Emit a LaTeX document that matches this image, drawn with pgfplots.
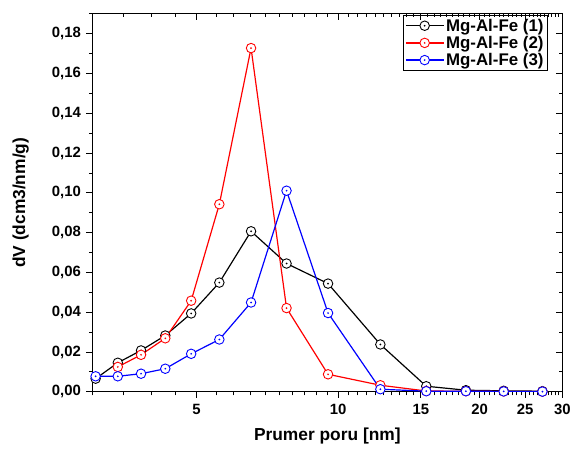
\documentclass[border=0pt]{standalone}
\usepackage{pgfplots}
\pgfplotsset{compat=1.18}
\usepackage{fontspec}
\setmainfont{Liberation Sans}
\pgfdeclareplotmark{dotcirc}{%
  \pgfpathcircle{\pgfpointorigin}{\pgfplotmarksize}%
  \pgfsetfillcolor{white}%
  \pgfusepathqfillstroke
  \pgfpathcircle{\pgfpointorigin}{0.35pt}%
  \pgfusepathqstroke}
\begin{document}
\begin{tikzpicture}
\begin{axis}[
  scale only axis, width=474pt, height=381pt,
  xmode=log, xmin=3, xmax=30, ymin=0, ymax=0.19,
  axis line style={line width=1.2pt},
  major tick length=6pt, minor tick length=3.5pt,
  every tick/.style={line width=1pt, black},
  xtick={5,10,15,20,25,30},
  minor xtick={3,3.5,4,4.5,5.5,6,6.5,7,7.5,8,8.5,9,9.5,10.5,11,11.5,12,12.5,13,13.5,14,14.5,15.5,16,16.5,17,17.5,18,18.5,19,19.5,20.5,21,21.5,22,22.5,23,23.5,24,24.5,25.5,26,26.5,27,27.5,28,28.5,29,29.5},
  ytick={0,0.02,...,0.181},
  minor ytick={0.01,0.03,...,0.19},
  xtick pos=bottom, ytick pos=left, tick align=outside,
  xticklabels={5,10,15,20,25,30},
  yticklabel style={xshift=-2pt, /pgf/number format/.cd, fixed, fixed zerofill, precision=2, use comma, assume math mode=true},
  tick label style={font=\fontsize{15}{17}\selectfont\bfseries},
  xlabel={Prumer poru [nm]}, ylabel={dV (dcm3/nm/g)},
  every axis x label/.style={at={(axis description cs:0.5,-0.118)}, anchor=center, font=\fontsize{17.5}{20}\selectfont\bfseries},
  every axis y label/.style={at={(axis description cs:-0.152,0.5)}, anchor=center, rotate=90, font=\fontsize{17.5}{20}\selectfont\bfseries},
  xticklabel style={yshift=-3pt},
  legend style={at={(0.968,0.997)}, anchor=north east, draw=black, line width=0.8pt,
    font=\fontsize{17}{19}\selectfont\bfseries, inner sep=1.5pt, row sep=-0.5pt,
    /tikz/every even column/.append style={column sep=2pt}},
  legend cell align=left,
  legend image code/.code={\draw[#1, mark repeat=2, mark phase=2] plot coordinates {(0pt,0pt) (19pt,0pt) (38pt,0pt)};},
  every axis plot/.append style={line width=1.2pt, mark=dotcirc, mark size=4.8pt, mark options={line width=0.9pt}},
]
\addplot[black] coordinates {
(3.05,0.0066) (3.40,0.0146) (3.81,0.0208) (4.29,0.0283) (4.87,0.0394) (5.59,0.0549) (6.53,0.0807) (7.77,0.0645) (9.52,0.0544) (12.3,0.0238) (15.4,0.0028) (18.7,0.0008) (22.5,0.0005) (27.2,0.0003)};
\addlegendentry{Mg-Al-Fe (1)}
\addplot[red] coordinates {
(3.40,0.0125) (3.81,0.0186) (4.29,0.0269) (4.87,0.0458) (5.59,0.0943) (6.53,0.1728) (7.77,0.0421) (9.52,0.0088) (12.3,0.0033) (15.4,0.0004) (18.7,0.0003) (22.5,0.0002) (27.2,0.0001)};
\addlegendentry{Mg-Al-Fe (2)}
\addplot[blue] coordinates {
(3.05,0.0078) (3.40,0.0078) (3.81,0.0091) (4.29,0.0116) (4.87,0.0191) (5.59,0.0263) (6.53,0.0449) (7.77,0.1011) (9.52,0.0396) (12.3,0.0013) (15.4,0.0003) (18.7,0.0003) (22.5,0.0002) (27.2,0.0001)};
\addlegendentry{Mg-Al-Fe (3)}
\end{axis}
\begin{axis}[
  scale only axis, width=474pt, height=381pt,
  xmode=log, xmin=3, xmax=30, ymin=0, ymax=0.19,
  axis line style={draw=none},
  major tick length=6pt, minor tick length=3.5pt,
  every tick/.style={line width=1pt, black},
  xtick={5,10,15,20,25,30},
  minor xtick={3,3.5,4,4.5,5.5,6,6.5,7,7.5,8,8.5,9,9.5,10.5,11,11.5,12,12.5,13,13.5,14,14.5,15.5,16,16.5,17,17.5,18,18.5,19,19.5,20.5,21,21.5,22,22.5,23,23.5,24,24.5,25.5,26,26.5,27,27.5,28,28.5,29,29.5},
  ytick={0,0.02,...,0.181},
  minor ytick={0.01,0.03,...,0.19},
  xtick pos=top, ytick pos=right, tick align=inside,
  xticklabels={}, yticklabels={},
]
\addplot[draw=none, mark=none] coordinates {(5,0.05)};
\end{axis}
\path ([xshift=-93pt,yshift=-58pt]current axis.south west) rectangle ([xshift=7pt,yshift=14pt]current axis.north east);
\end{tikzpicture}
\end{document}
